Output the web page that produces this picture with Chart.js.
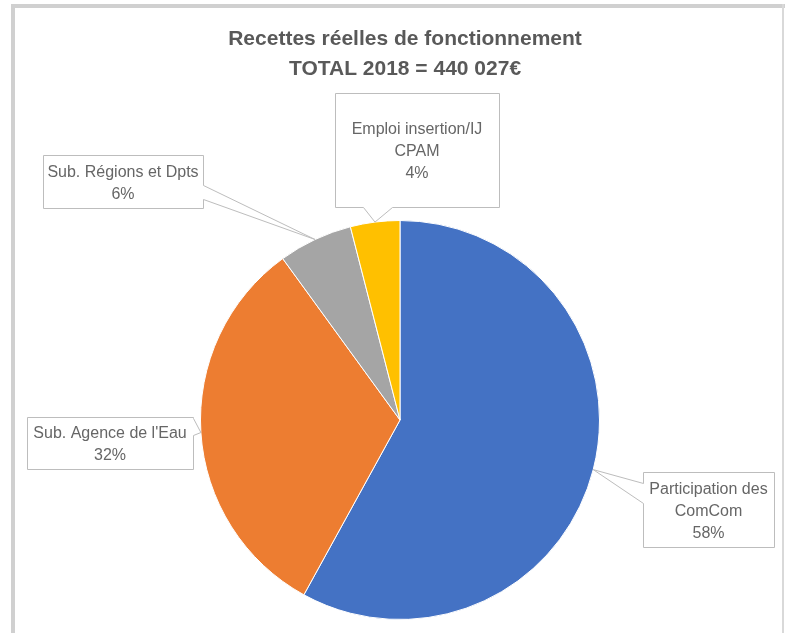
<!DOCTYPE html>
<html><head><meta charset="utf-8">
<script src="https://cdn.jsdelivr.net/npm/chart.js@4"></script>
<style>html,body{margin:0;padding:0;background:#fff;overflow:hidden}#wrap{width:785px;height:633px;position:relative}canvas{display:block}</style>
</head><body><div id="wrap"><canvas id="c" width="785" height="633"></canvas></div>
<script>
// ---- data ----
const categories = ["Participation des ComCom", "Sub. Agence de l'Eau", "Sub. Régions et Dpts", "Emploi insertion/IJ CPAM"];
const labelLines = [["Participation des", "ComCom"], ["Sub. Agence de l'Eau"], ["Sub. Régions et Dpts"], ["Emploi insertion/IJ", "CPAM"]];
const shares = [58, 32, 6, 4];
const titleLines = ["Recettes réelles de fonctionnement", "TOTAL 2018 = 440 027€"];

// ---- styles / layout ----
const colors = ["#4472C4", "#ED7D31", "#A5A5A5", "#FFC000"];
const callouts = [
  {x: 643, y: 472, w: 131, h: 75, side: 'left', b0: 11, b1: 31},
  {x: 27, y: 417, w: 166, h: 52, side: 'right', b0: 1, b1: 18},
  {x: 43, y: 155, w: 160, h: 53, side: 'right', b0: 30, b1: 44},
  {x: 335, y: 93, w: 164, h: 114, side: 'bottom', b0: 28, b1: 57}
];
const FONT = '"Liberation Sans", Arial, sans-serif';

function drawCallout(ctx, b, tx, ty) {
  const x = b.x + 0.5, y = b.y + 0.5, w = b.w, h = b.h;
  ctx.beginPath();
  ctx.moveTo(x, y);
  if (b.side === 'top') { ctx.lineTo(x + b.b0, y); ctx.lineTo(tx, ty); ctx.lineTo(x + b.b1, y); }
  ctx.lineTo(x + w, y);
  if (b.side === 'right') { ctx.lineTo(x + w, y + b.b0); ctx.lineTo(tx, ty); ctx.lineTo(x + w, y + b.b1); }
  ctx.lineTo(x + w, y + h);
  if (b.side === 'bottom') { ctx.lineTo(x + b.b1, y + h); ctx.lineTo(tx, ty); ctx.lineTo(x + b.b0, y + h); }
  ctx.lineTo(x, y + h);
  if (b.side === 'left') { ctx.lineTo(x, y + b.b1); ctx.lineTo(tx, ty); ctx.lineTo(x, y + b.b0); }
  ctx.closePath();
  ctx.fillStyle = '#ffffff';
  ctx.fill();
  ctx.strokeStyle = '#bdbdbd';
  ctx.lineWidth = 1;
  ctx.stroke();
}

const decor = {
  id: 'decor',
  beforeDraw(chart) {
    const ctx = chart.ctx;
    ctx.save();
    ctx.fillStyle = '#ffffff';
    ctx.fillRect(0, 0, chart.width, chart.height);
    ctx.fillStyle = '#d0d0d0';
    ctx.fillRect(11, 4, chart.width - 11, 4);
    ctx.fillRect(11, 4, 4, chart.height - 4);
    ctx.fillStyle = '#d9d9d9';
    ctx.fillRect(782, 4, 2, chart.height - 4);
    // title
    ctx.fillStyle = '#595959';
    ctx.font = 'bold 21px ' + FONT;
    ctx.textAlign = 'center';
    ctx.textBaseline = 'alphabetic';
    ctx.fillText(titleLines[0], 405, 45);
    ctx.fillText(titleLines[1], 405, 75);
    ctx.restore();
  },
  afterDatasetsDraw(chart) {
    const ctx = chart.ctx;
    const meta = chart.getDatasetMeta(0);
    const data = chart.data.datasets[0].data;
    const total = data.reduce((a, b) => a + b, 0);
    ctx.save();
    meta.data.forEach((el, i) => {
      const p = el.getProps(['x', 'y', 'startAngle', 'endAngle', 'outerRadius'], true);
      const a = (p.startAngle + p.endAngle) / 2;
      const tx = p.x + p.outerRadius * Math.cos(a);
      const ty = p.y + p.outerRadius * Math.sin(a);
      const b = callouts[i];
      drawCallout(ctx, b, tx, ty);
      const lines = labelLines[i].concat([Math.round(data[i] / total * 100) + '%']);
      ctx.fillStyle = '#666666';
      ctx.font = '16px ' + FONT;
      ctx.textAlign = 'center';
      ctx.textBaseline = 'middle';
      const lh = 22;
      const cx = b.x + b.w / 2;
      const cy = b.y + b.h / 2 + 2;
      lines.forEach((t, k) => {
        ctx.fillText(t, cx, cy + (k - (lines.length - 1) / 2) * lh);
      });
    });
    ctx.restore();
  }
};

new Chart(document.getElementById('c'), {
  type: 'pie',
  data: {
    labels: categories,
    datasets: [{
      data: shares,
      backgroundColor: colors,
      borderColor: '#ffffff',
      borderWidth: 1,
      hoverOffset: 0,
      offset: 0
    }]
  },
  options: {
    responsive: false,
    animation: false,
    devicePixelRatio: 1,
    layout: {padding: {top: 220, bottom: 13, left: 100, right: 85}},
    plugins: {
      legend: {display: false},
      tooltip: {enabled: false},
      title: {display: false}
    },
    events: []
  },
  plugins: [decor]
});
</script>
</body></html>
